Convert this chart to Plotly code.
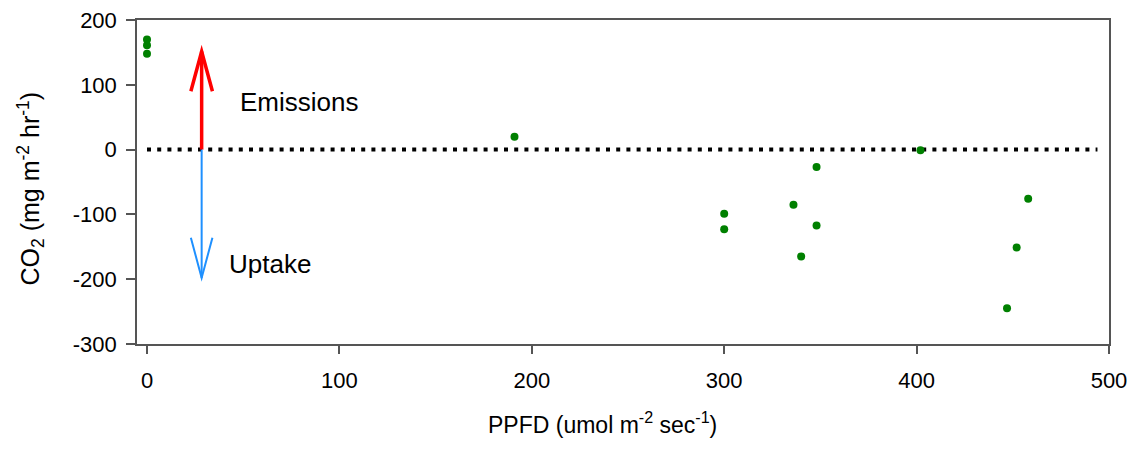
import plotly.graph_objects as go

# Data
ppfd = [0, 0, 0, 191, 300, 300, 336, 340, 348, 348, 402, 447, 452, 458]
co2 = [170, 161, 148, 20, -99, -123, -85, -165, -27, -117, -1, -245, -151, -76]

x_ticks = [0, 100, 200, 300, 400, 500]
y_ticks = [-300, -200, -100, 0, 100, 200]
x_tick_labels = [str(v) for v in x_ticks]
y_tick_labels = [str(v) for v in y_ticks]

# Annotation geometry (data units)
zero_line_x = [0, 494]
arrow_x = 28.4
arrow_wing_dx = 5.6
emit_tip, emit_wing = 151.5, 90
uptake_tip, uptake_wing = -198, -136

FONT = "Liberation Sans, Arial, sans-serif"

fig = go.Figure()
fig.add_trace(go.Scatter(
    x=ppfd, y=co2, mode="markers",
    marker=dict(color="#008000", size=8, line=dict(width=0)),
    showlegend=False, hoverinfo="x+y"))

shapes = [
    dict(type="line", xref="x", yref="y", x0=zero_line_x[0], x1=zero_line_x[1], y0=0, y1=0,
         line=dict(color="black", width=4, dash="4px,6.2px"), layer="below"),
    # emissions arrow
    dict(type="line", xref="x", yref="y", x0=arrow_x, x1=arrow_x, y0=0, y1=emit_tip,
         line=dict(color="#FF0000", width=3.5)),
    dict(type="path", xref="x", yref="y",
         path=f"M {arrow_x-arrow_wing_dx},{emit_wing} L {arrow_x},{emit_tip} L {arrow_x+arrow_wing_dx},{emit_wing}",
         line=dict(color="#FF0000", width=3.5)),
    # uptake arrow
    dict(type="line", xref="x", yref="y", x0=arrow_x, x1=arrow_x, y0=0, y1=uptake_tip,
         line=dict(color="#1E90FF", width=2)),
    dict(type="path", xref="x", yref="y",
         path=f"M {arrow_x-arrow_wing_dx},{uptake_wing} L {arrow_x},{uptake_tip} L {arrow_x+arrow_wing_dx},{uptake_wing}",
         line=dict(color="#1E90FF", width=2)),
]

annotations = [
    dict(text="Emissions", x=47.5, y=73, xref="x", yref="y", xanchor="left", yanchor="middle",
         showarrow=False, font=dict(size=26, color="black", family=FONT)),
    dict(text="Uptake", x=41.5, y=-177, xref="x", yref="y", xanchor="left", yanchor="middle",
         showarrow=False, font=dict(size=26, color="black", family=FONT)),
    dict(text="CO<sub>2</sub> (mg m<sup>-2</sup> hr<sup>-1</sup>)", x=-0.109, y=0.48,
         xref="paper", yref="paper", xanchor="center", yanchor="middle", textangle=-90,
         showarrow=False, font=dict(size=25, color="black", family=FONT)),
    dict(text="PPFD (umol m<sup>-2</sup> sec<sup>-1</sup>)", x=0.479, y=-0.243,
         xref="paper", yref="paper", xanchor="center", yanchor="middle",
         showarrow=False, font=dict(size=23, color="black", family=FONT)),
]

axis_common = dict(showgrid=False, zeroline=False, showline=True, linecolor="#555555",
                   linewidth=1.5, mirror=True, ticks="outside", tickcolor="#555555",
                   tickwidth=1.5, automargin=False,
                   tickfont=dict(size=22, color="black", family=FONT))

fig.update_layout(
    width=1135, height=450,
    margin=dict(l=137, r=26, t=20, b=106),
    plot_bgcolor="white", paper_bgcolor="white",
    shapes=shapes, annotations=annotations,
    xaxis=dict(range=[-5.2, 500], tickvals=x_ticks, ticktext=x_tick_labels,
               ticklen=8, ticklabelstandoff=8, **axis_common),
    yaxis=dict(range=[-300, 200], tickvals=y_ticks, ticktext=y_tick_labels,
               ticklen=9, ticklabelstandoff=5, **axis_common),
)

fig.write_html("out.html", config={"displayModeBar": False},
               post_script="document.body.style.margin='0';document.body.style.padding='0';")
